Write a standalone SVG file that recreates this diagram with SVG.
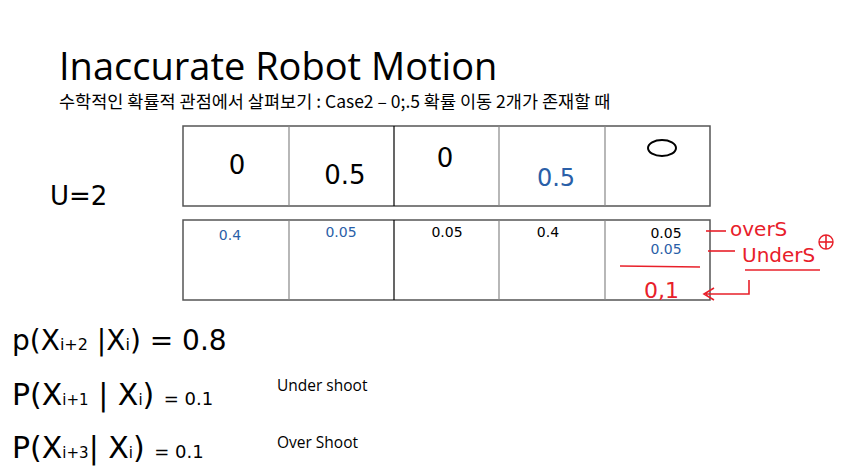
<svg xmlns="http://www.w3.org/2000/svg" width="841" height="471" viewBox="0 0 841 471">
<style>
.title{font-family:"Open Sans","Noto Sans",sans-serif;font-size:38px;fill:#000}
.sub{font-family:"Noto Sans CJK KR","Noto Sans",sans-serif;font-size:17.5px;fill:#000}
.hw{font-family:"DejaVu Sans",sans-serif;fill:#000}
.blue{fill:#2a5fa8}
.red{fill:#e8202a}
.lbl{font-family:"Open Sans","Noto Sans",sans-serif;font-size:15.5px;fill:#000}
.grid{fill:none;stroke:#555;stroke-width:1.5}
.gline{stroke:#888;stroke-width:1.2}
.bline{stroke:#000;stroke-width:1.2}
.rl{stroke:#e8202a;stroke-width:1.6;fill:none}
</style>
<rect width="841" height="471" fill="#fff"/>
<g id="title">
<text class="title" x="59" y="80">Inaccurate Robot Motion</text>
<text class="sub" x="59" y="108">수학적인 확률적 관점에서 살펴보기 : Case2 – 0;.5 확률 이동 2개가 존재할 때</text>
</g>
<g id="u-label"><text class="hw" x="50" y="205" font-size="26">U=2</text></g>
<g id="top-table">
<rect class="grid" x="183" y="126" width="527" height="80"/>
<line class="gline" x1="289" y1="126" x2="289" y2="206"/>
<line class="bline" x1="394" y1="126" x2="394" y2="206"/>
<line class="gline" x1="499" y1="126" x2="499" y2="206"/>
<line class="gline" x1="605" y1="126" x2="605" y2="206"/>
<text class="hw" x="237" y="174" font-size="26" text-anchor="middle">0</text>
<text class="hw" x="345" y="184" font-size="26" text-anchor="middle">0.5</text>
<text class="hw" x="445" y="167" font-size="26" text-anchor="middle">0</text>
<text class="hw blue" x="556" y="186" font-size="24" text-anchor="middle">0.5</text>
<ellipse cx="662" cy="148" rx="14" ry="8" fill="none" stroke="#000" stroke-width="2"/>
</g>
<g id="bottom-table">
<rect class="grid" x="183" y="220" width="527" height="80"/>
<line class="gline" x1="289" y1="220" x2="289" y2="300"/>
<line class="bline" x1="394" y1="220" x2="394" y2="300"/>
<line class="gline" x1="499" y1="220" x2="499" y2="300"/>
<line class="gline" x1="605" y1="220" x2="605" y2="300"/>
<text class="hw blue" x="230" y="240" font-size="14" text-anchor="middle">0.4</text>
<text class="hw blue" x="341" y="237" font-size="14" text-anchor="middle">0.05</text>
<text class="hw" x="447" y="237" font-size="14" text-anchor="middle">0.05</text>
<text class="hw" x="548" y="237" font-size="14" text-anchor="middle">0.4</text>
<text class="hw" x="666" y="238" font-size="14" text-anchor="middle">0.05</text>
<text class="hw blue" x="666" y="254" font-size="14" text-anchor="middle">0.05</text>
</g>
<g id="annotations">
<line class="rl" x1="706" y1="231" x2="726" y2="231"/>
<text class="hw red" x="730" y="236" font-size="20">overS</text>
<line class="rl" x1="708" y1="251" x2="735" y2="251"/>
<text class="hw red" x="742" y="262" font-size="20">UnderS</text>
<circle cx="826" cy="242" r="7" fill="none" stroke="#e8202a" stroke-width="1.4"/>
<line class="rl" x1="819" y1="242" x2="833" y2="242"/>
<line class="rl" x1="826" y1="235" x2="826" y2="249"/>
<line class="rl" x1="620" y1="266" x2="700" y2="267"/>
<line class="rl" x1="745" y1="270" x2="820" y2="270"/>
<text class="hw red" x="644" y="298" font-size="22">0,1</text>
<path class="rl" d="M749 280 L749 294 L706 294 M714 288 L704 294 L714 300"/>
</g>
<g id="equations">
<text class="hw" x="12" y="350" font-size="28">p(X<tspan font-size="16">i+2</tspan> |X<tspan font-size="16">i</tspan>) = 0.8</text>
<text class="hw" x="12" y="405" font-size="30">P(X<tspan font-size="15">i+1</tspan> | X<tspan font-size="15">i</tspan>) <tspan font-size="18">= 0.1</tspan></text>
<text class="lbl" x="277" y="391">Under shoot</text>
<text class="hw" x="12" y="458" font-size="30">P(X<tspan font-size="15">i+3</tspan>| X<tspan font-size="15">i</tspan>) <tspan font-size="18">= 0.1</tspan></text>
<text class="lbl" x="277" y="448">Over Shoot</text>
</g>
</svg>
